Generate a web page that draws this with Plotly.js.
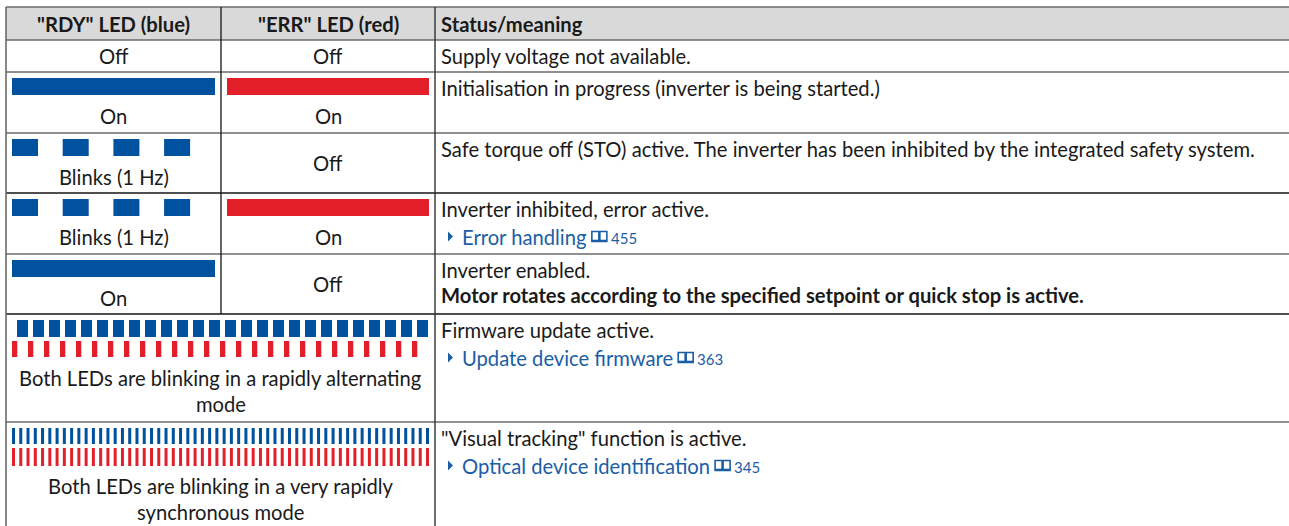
<!DOCTYPE html>
<html><head><meta charset="utf-8">
<script src="https://cdn.plot.ly/plotly-3.0.1.min.js"></script>
<style>html,body{margin:0;padding:0;background:#fff;overflow:hidden}</style>
</head><body><div id="chart" style="width:1289px;height:526px"></div>
<script>
// ---------- table content ----------
const headers = ['"RDY" LED (blue)', '"ERR" LED (red)', 'Status/meaning'];
const rdyState = ['off', 'on', 'blink', 'blink', 'on', 'fast', 'veryfast'];
const errState = ['off', 'on', 'off', 'on', 'off', 'fastAlt', 'veryfast'];
const rdyLabels = ['Off', 'On', 'Blinks (1 Hz)', 'Blinks (1 Hz)', 'On', null, null];
const errLabels = ['Off', 'On', 'Off', 'On', 'Off', null, null];
const sharedLabels = [null, null, null, null, null,
  ['Both LEDs are blinking in a rapidly alternating', 'mode'],
  ['Both LEDs are blinking in a very rapidly', 'synchronous mode']];
const statusText = ['Supply voltage not available.',
  'Initialisation in progress (inverter is being started.)',
  'Safe torque off (STO) active. The inverter has been inhibited by the integrated safety system.',
  'Inverter inhibited, error active.',
  'Inverter enabled.',
  'Firmware update active.',
  '"Visual tracking" function is active.'];
const statusBold = [null, null, null, null,
  'Motor rotates according to the specified setpoint or quick stop is active.', null, null];
const linkText = [null, null, null, 'Error handling', null, 'Update device firmware', 'Optical device identification'];
const linkPage = [null, null, null, '455', null, '363', '345'];
const pulseCounts = {blink: 4, fast: 26, fastAlt: 26, veryfast: 58};

// ---------- style / geometry ----------
const F = 20.2, FP = 15, FONT = 'Lato';
const TXT = '#1a1a1a', LINK = '#1b5ea6', BLUE = '#00519e', RED = '#e3202a', HEAD = '#d9d9d9';
const colEdges = [6, 221, 435, 1300];
const rowEdges = [7, 40, 72, 133, 193, 254, 314, 422, 540];
const lineDark = [false, false, false, false, true, false, true, false];

function measure(s, size, bold) {
  const c = document.createElement('canvas').getContext('2d');
  c.font = (bold ? 'bold ' : '') + size + 'px ' + FONT;
  return c.measureText(s).width;
}

function build() {
  const shapes = [], ann = [];
  const rect = (x0, x1, y0, y1, color) => shapes.push({type: 'rect', xref: 'x', yref: 'y', x0, x1, y0, y1, fillcolor: color, line: {width: 0}});
  const line = (x0, y0, x1, y1, c, w) => shapes.push({type: 'line', xref: 'x', yref: 'y', x0, y0, x1, y1, line: {color: c, width: w}});
  const txt = (x, y, s, o) => { o = o || {}; ann.push({xref: 'x', yref: 'y', x, y, text: s, showarrow: false,
    xanchor: o.anchor || 'center', yanchor: 'middle', borderpad: 0,
    font: {family: FONT, size: o.size || F, color: o.color || TXT}}); };

  // header background
  rect(colEdges[0], colEdges[3], rowEdges[0], rowEdges[1], HEAD);

  // LED pattern painter
  function led(state, xl, xr, top, color, second) {
    const y0 = top + 6, y1 = top + 23;
    if (state === 'on') rect(xl + 6, xr - 6, y0, y1, color);
    else if (state === 'blink') {
      for (let i = 0; i < pulseCounts.blink; i++) { const x = xl + 6 + i * 50.7; rect(x, x + 26, y0, y1, color); }
    } else if (state === 'fast') {
      for (let i = 0; i < pulseCounts.fast; i++) { const x = xl + 11 + i * 16; rect(x, x + 11, y0, y1, color); }
    } else if (state === 'fastAlt') {
      for (let i = 0; i < pulseCounts.fastAlt; i++) { const x = xl + 6 + i * 16; rect(x, x + 5.3, top + 27, top + 43, color); }
    } else if (state === 'veryfast') {
      const a = second ? top + 26 : top + 6, b = second ? top + 44 : top + 22;
      const n = pulseCounts.veryfast, step = (xr - xl - 12 - 3) / (n - 1);
      for (let i = 0; i < n; i++) { const x = xl + 6 + i * step; rect(x, x + 3, a, b, color); }
    }
  }

  // header text
  txt((colEdges[0] + colEdges[1]) / 2, 23.5, '<b>' + headers[0] + '</b>');
  txt((colEdges[1] + colEdges[2]) / 2, 23.5, '<b>' + headers[1] + '</b>');
  txt(colEdges[2] + 5, 23.5, '<b>' + headers[2] + '</b>', {anchor: 'left'});

  const c1 = (colEdges[0] + colEdges[1]) / 2, c2 = (colEdges[1] + colEdges[2]) / 2, cm = (colEdges[0] + colEdges[2]) / 2;
  const sx = colEdges[2] + 5;
  for (let i = 0; i < statusText.length; i++) {
    const top = rowEdges[i + 1], bot = rowEdges[i + 2], mid = (top + bot) / 2;
    if (sharedLabels[i]) {
      led(rdyState[i], colEdges[0], colEdges[2], top, BLUE, false);
      led(errState[i], colEdges[0], colEdges[2], top, RED, true);
      sharedLabels[i].forEach((s, k) => txt(cm, top + 63.5 + k * 26, s));
    } else {
      led(rdyState[i], colEdges[0], colEdges[1], top, BLUE);
      led(errState[i], colEdges[1], colEdges[2], top, RED);
      txt(c1, rdyState[i] === 'off' ? mid : top + 43.5, rdyLabels[i]);
      txt(c2, errState[i] === 'off' ? mid : top + 43.5, errLabels[i]);
    }
    // status column
    if (i === 0) txt(sx, mid, statusText[i], {anchor: 'left'});
    else txt(sx, top + 15.5, statusText[i], {anchor: 'left'});
    if (statusBold[i]) txt(sx, top + 41, '<b>' + statusBold[i] + '</b>', {anchor: 'left'});
    if (linkText[i]) {
      const ly = top + 43.5;
      const tx = sx + 8;
      shapes.push({type: 'path', xref: 'x', yref: 'y',
        path: `M${tx},${ly - 5} L${tx + 5},${ly} L${tx},${ly + 5} Z`, fillcolor: LINK, line: {width: 0}});
      txt(sx + 21, ly, linkText[i], {anchor: 'left', color: LINK});
      const bx = sx + 21 + measure(linkText[i], F, false) + 6;
      // small open-book glyph
      shapes.push({type: 'path', xref: 'x', yref: 'y',
        path: `M${bx},${ly - 5} L${bx + 7},${ly - 5} L${bx + 7},${ly + 5} L${bx},${ly + 5} Z M${bx + 8},${ly - 5} L${bx + 15},${ly - 5} L${bx + 15},${ly + 5} L${bx + 8},${ly + 5} Z`,
        line: {color: LINK, width: 1.6}});
      line(bx, ly + 4, bx + 15, ly + 4, LINK, 1.6);
      txt(bx + 18, ly + 1, linkPage[i], {anchor: 'left', size: FP, color: LINK});
    }
  }

  // grid lines
  rowEdges.slice(0, 8).forEach((y, k) => line(colEdges[0], y, colEdges[3], y, lineDark[k] ? '#151515' : '#6a6a6a', lineDark[k] ? 1.3 : 1.6));
  line(colEdges[0], rowEdges[0], colEdges[0], 540, '#6a6a6a', 1.6);
  line(colEdges[1], rowEdges[0], colEdges[1], rowEdges[6], '#151515', 1.3);
  line(colEdges[2], rowEdges[0], colEdges[2], 540, '#303030', 1.4);

  const layout = {
    width: 1289, height: 526, margin: {l: 0, r: 0, t: 0, b: 0},
    paper_bgcolor: '#fff', plot_bgcolor: '#fff', showlegend: false,
    xaxis: {range: [0, 1289], visible: false, fixedrange: true},
    yaxis: {range: [526, 0], visible: false, fixedrange: true},
    shapes, annotations: ann
  };
  Plotly.newPlot('chart', [], layout, {staticPlot: true, displayModeBar: false});
}
(document.fonts && document.fonts.load ? Promise.all([document.fonts.load(F + 'px ' + FONT), document.fonts.load('bold ' + F + 'px ' + FONT)]) : Promise.resolve()).then(build, build);
</script></body></html>
